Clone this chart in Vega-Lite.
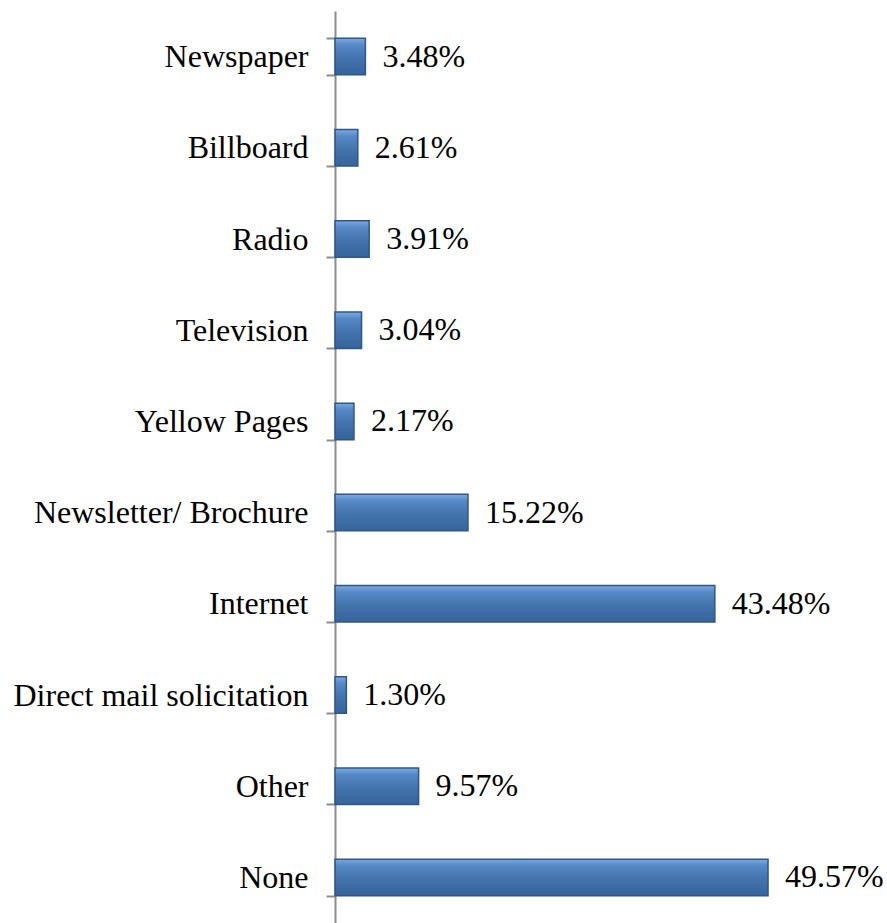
{
  "$schema": "https://vega.github.io/schema/vega-lite/v6.json",
  "autosize": "none",
  "width": 552,
  "height": 912,
  "padding": {"left": 335, "top": 11, "right": 0, "bottom": 0},
  "background": "white",
  "config": {"view": {"stroke": null}},
  "data": {
    "values": [
      {"medium": "Newspaper", "share": 0.0348},
      {"medium": "Billboard", "share": 0.0261},
      {"medium": "Radio", "share": 0.0391},
      {"medium": "Television", "share": 0.0304},
      {"medium": "Yellow Pages", "share": 0.0217},
      {"medium": "Newsletter/ Brochure", "share": 0.1522},
      {"medium": "Internet", "share": 0.4348},
      {"medium": "Direct mail solicitation", "share": 0.0130},
      {"medium": "Other", "share": 0.0957},
      {"medium": "None", "share": 0.4957}
    ]
  },
  "encoding": {
    "y": {
      "field": "medium",
      "type": "nominal",
      "sort": null,
      "scale": {"paddingInner": 0.6, "paddingOuter": 0.3},
      "axis": {
        "title": null,
        "tickBand": "extent",
        "domainColor": "#8c8c8c",
        "domainWidth": 2,
        "tickColor": "#8c8c8c",
        "tickWidth": 2,
        "tickSize": 9,
        "labelFont": "'Liberation Serif', 'Times New Roman', serif",
        "labelFontSize": 32,
        "labelColor": "#000000",
        "labelPadding": 18,
        "labelLimit": 400
      }
    },
    "x": {
      "field": "share",
      "type": "quantitative",
      "scale": {"domain": [0, 0.6319], "nice": false},
      "axis": null
    }
  },
  "layer": [
    {
      "mark": {
        "type": "bar",
        "stroke": "#2f5686",
        "strokeWidth": 1.5,
        "color": {
          "gradient": "linear",
          "x1": 0, "y1": 0, "x2": 0, "y2": 1,
          "stops": [
            {"offset": 0, "color": "#7eaae0"},
            {"offset": 0.18, "color": "#5689c8"},
            {"offset": 0.55, "color": "#4373ad"},
            {"offset": 1, "color": "#36649c"}
          ]
        }
      }
    },
    {
      "mark": {
        "type": "text",
        "align": "left",
        "baseline": "middle",
        "dx": 17,
        "font": "'Liberation Serif', 'Times New Roman', serif",
        "fontSize": 32,
        "color": "#000000"
      },
      "encoding": {
        "text": {"field": "share", "type": "quantitative", "format": ".2%"}
      }
    }
  ]
}
